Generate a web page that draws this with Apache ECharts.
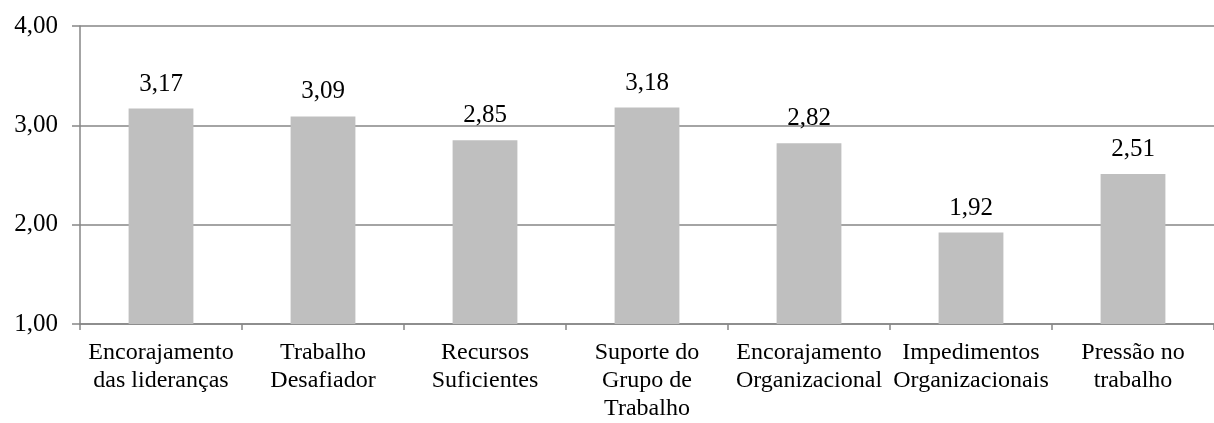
<!DOCTYPE html>
<html>
<head>
<meta charset="utf-8">
<script src="https://cdn.jsdelivr.net/npm/echarts@6/dist/echarts.min.js"></script>
<style>
html,body{margin:0;padding:0;background:#fff;overflow:hidden;}
#chart{width:1214px;height:423px;}
</style>
</head>
<body>
<div id="chart"></div>
<script>
// categorias e médias
var categorias = ['Encorajamento\ndas lideranças', 'Trabalho\nDesafiador', 'Recursos\nSuficientes', 'Suporte do\nGrupo de\nTrabalho', 'Encorajamento\nOrganizacional', 'Impedimentos\nOrganizacionais', 'Pressão no\ntrabalho'];
var medias = [3.17, 3.09, 2.85, 3.18, 2.82, 1.92, 2.51];
var yMin = 1;
var yMax = 4;
var yStep = 1;

var fonte = '"Liberation Serif", "Times New Roman", serif';
var corLinha = '#868686';

function virgula(v){
	return v.toFixed(2).replace('.', ',');
}

var myChart = echarts.init(document.getElementById('chart'));
var option = {
	animation: false,
	grid: {left: 80, top: 26, width: 1145, height: 307, containLabel: false},
	xAxis: {
		type: 'category',
		data: categorias,
		axisLine: {show: true, lineStyle: {color: corLinha, width: 1.5}},
		axisTick: {show: true, length: 6, lineStyle: {color: corLinha, width: 1.5}},
		axisLabel: {
			interval: 0,
			margin: 15,
			color: '#000',
			fontFamily: fonte,
			fontSize: 24,
			lineHeight: 28
		}
	},
	yAxis: {
		type: 'value',
		min: yMin,
		max: yMax,
		interval: yStep,
		axisLine: {show: true, lineStyle: {color: corLinha, width: 1.5}},
		axisTick: {show: true, length: 8, lineStyle: {color: corLinha, width: 1.5}},
		splitLine: {show: true, lineStyle: {color: corLinha, width: 1.5}},
		axisLabel: {
			margin: 22,
			color: '#000',
			fontFamily: fonte,
			fontSize: 25,
			formatter: function(v){ return virgula(v); }
		}
	},
	series: [{
		type: 'bar',
		data: medias,
		barWidth: '40%',
		itemStyle: {color: '#BFBFBF'},
		label: {
			show: true,
			position: 'top',
			distance: 12,
			color: '#000',
			fontFamily: fonte,
			fontSize: 25,
			formatter: function(p){ return virgula(p.value); }
		}
	}]
};
myChart.setOption(option);
</script>
</body>
</html>
